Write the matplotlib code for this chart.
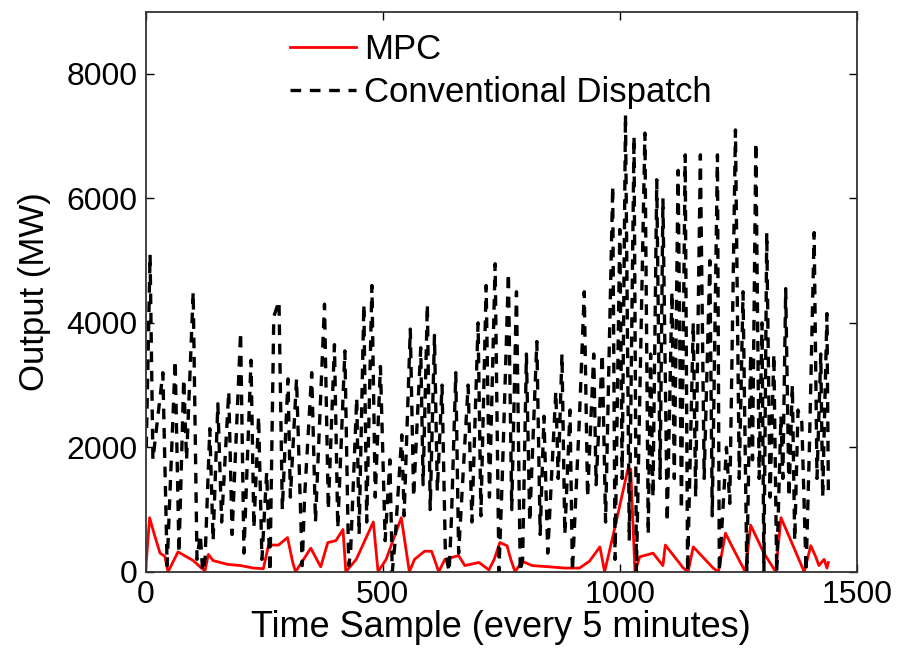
import matplotlib
matplotlib.use("Agg")
import matplotlib.pyplot as plt

# MPC output, vertices (sample index, MW)
mpc_x = [0, 8, 18, 30, 40, 47, 68, 100, 119, 125, 132, 142, 172, 200, 227, 248,
         259, 280, 299, 310, 316, 348, 369, 384, 401, 416, 422, 444, 480, 490,
         507, 539, 556, 567, 588, 603, 618, 631, 660, 673, 703, 724, 735, 747,
         762, 770, 779, 794, 815, 851, 885, 915, 936, 958, 968, 992, 1017, 1023,
         1032, 1042, 1070, 1091, 1096, 1134, 1144, 1155, 1197, 1208, 1223, 1234,
         1255, 1265, 1276, 1304, 1329, 1340, 1361, 1389, 1403, 1414, 1420, 1431,
         1437, 1440]
mpc_y = [50, 870, 600, 300, 250, 0, 320, 180, 50, 20, 280, 180, 120, 100, 60, 50,
         430, 430, 550, 150, 0, 380, 80, 470, 500, 680, 0, 200, 800, 0,
         200, 870, 0, 200, 330, 330, 0, 200, 260, 100, 150, 30, 200, 470,
         420, 200, 0, 170, 100, 80, 60, 60, 170, 400, 0, 790, 1650, 1650,
         0, 240, 300, 100, 430, 60, 0, 400, 60, 0, 620, 450,
         140, 0, 750, 300, 0, 870, 500, 0, 420, 230, 100, 200,
         60, 150]

# conventional dispatch output, vertices (sample index, MW)
cd_x = [1, 9, 15, 36, 45, 62, 70, 80, 86, 100, 108, 115, 120,
        125, 135, 142, 152, 160, 175, 182, 200, 207, 222, 228, 238, 245, 255, 262,
        270, 281, 288, 300, 305, 318, 330,
        335, 350, 358, 377, 385, 398, 405, 420, 428,
        432, 445, 450, 460, 466, 477, 484, 495, 505, 515, 520,
        525, 540, 545, 558, 565, 580, 585, 594, 600, 609, 615, 625, 632, 640,
        645, 654, 660, 680, 688, 701, 707, 718, 725, 737, 745, 752, 765, 772, 782, 790,
        795, 803, 810, 825, 832, 840, 848,
        865, 870, 878, 884, 895, 900, 915, 925, 932, 945, 950, 963, 970, 985, 990,
        1000, 1005, 1012, 1020, 1030, 1035, 1053, 1060,
        1065, 1070, 1078, 1085, 1091, 1100, 1110, 1115, 1123, 1130, 1138, 1143,
        1155, 1160, 1170, 1178, 1190, 1195, 1206, 1210, 1225, 1232,
        1244, 1252, 1260, 1268, 1276, 1280, 1287, 1294, 1300, 1304, 1310, 1317,
        1325, 1331, 1340, 1344, 1350, 1357, 1364, 1369, 1376, 1384, 1393, 1400,
        1410, 1416, 1424, 1428, 1437, 1440]
cd_y = [2000, 5100, 1800, 3200, 100, 3400, 300, 3100, 1800, 4500, 200, 600, 0,
        200, 2300, 500, 2700, 800, 2900, 600, 3850, 300, 3400, 700, 2500, 200, 1600, 0,
        4100, 4350, 1000, 3100, 1200, 3100, 100,
        1200, 3200, 800, 4300, 1000, 3650, 700, 3550, 100,
        300, 2800, 600, 4300, 800, 4600, 1200, 3300, 500, 1800, 0,
        400, 2200, 900, 3900, 1200, 3600, 1400, 4300, 1000, 3800, 1300, 3000, 300, 0,
        900, 3200, 300, 3000, 800, 4000, 900, 4600, 1200, 4950, 0, 1500, 4800, 1000, 4500, 0,
        200, 3500, 800, 3700, 600, 2500, 300,
        2900, 1500, 3500, 600, 2600, 0, 2500, 4500, 1200, 3500, 1400, 3500, 800, 6200, 200,
        5500, 1500, 7350, 500, 7000, 0, 7050, 600,
        3500, 1200, 6300, 1500, 6000, 800, 4500, 1500, 6450, 1000, 6700, 0,
        4000, 1200, 6700, 1500, 5000, 900, 6700, 0, 2000, 1100,
        7100, 1500, 4500, 0, 3500, 1800, 6900, 1500, 4000, 0, 5450, 1200,
        3500, 0, 2500, 1500, 4550, 1200, 3000, 500, 2600, 2400, 0, 2000,
        5450, 1500, 3500, 1200, 4150, 1300]

plt.rcParams["font.family"] = ["Liberation Sans", "DejaVu Sans"]

fig = plt.figure(figsize=(9, 6.52), dpi=100)
ax = fig.add_axes([0.162, 0.123, 0.79, 0.859])

ax.plot(mpc_x, mpc_y, color="red", linewidth=2.0, label="MPC")
ax.plot(cd_x, cd_y, color="black", linewidth=2.4, dashes=(3.2, 2.6),
        label="Conventional Dispatch")

ax.set_xlim(0, 1500)
ax.set_ylim(0, 9000)
ax.set_xticks([0, 500, 1000, 1500])
ax.set_yticks([0, 2000, 4000, 6000, 8000])
ax.tick_params(direction="in", length=6, width=1, top=True, right=True,
               labelsize=23)
ax.tick_params(axis="x", pad=6)
ax.tick_params(axis="y", pad=6)
for s in ax.spines.values():
    s.set_linewidth(1.3)
    s.set_color("#333333")

ax.set_xlabel("Time Sample (every 5 minutes)", fontsize=26, labelpad=0)
ax.set_ylabel("Output (MW)", fontsize=25, labelpad=11)

ax.legend(loc="upper left", bbox_to_anchor=(0.2025, 0.962), frameon=False,
          fontsize=25, handlelength=1.9, handletextpad=0.25, labelspacing=0.3,
          borderpad=0, borderaxespad=0)

fig.savefig("out.png", dpi=100)
